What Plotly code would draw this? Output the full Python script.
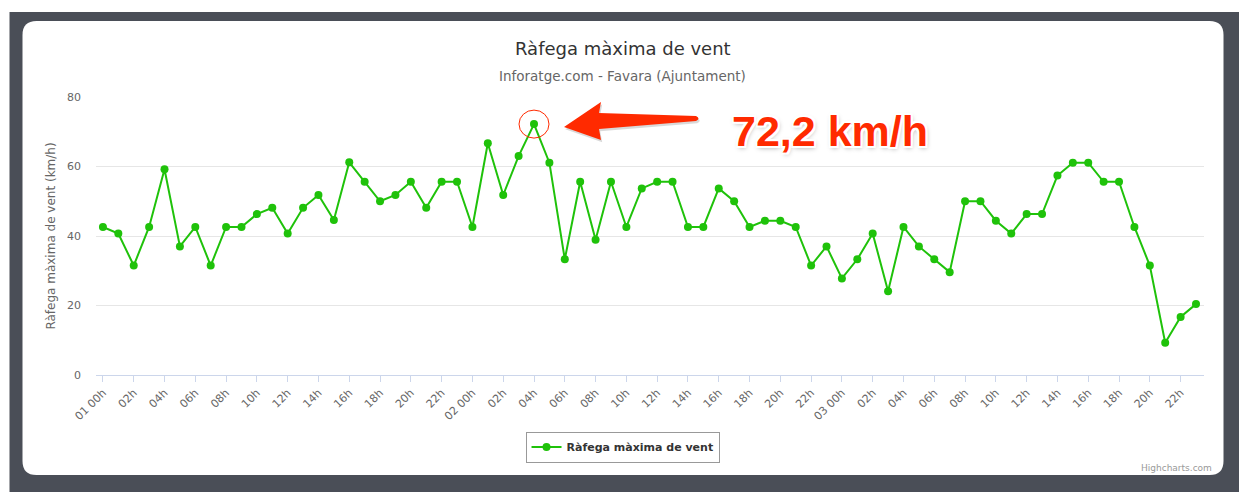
import plotly.graph_objects as go

# ---------------- data ----------------
days = ["01", "02", "03"]
hours_per_day = 24
gust_kmh = [
    42.6, 40.7, 31.5, 42.6, 59.2, 37.0, 42.6, 31.5, 42.6, 42.6, 46.3, 48.1,
    40.7, 48.1, 51.8, 44.6, 61.2, 55.6, 50.0, 51.8, 55.6, 48.1, 55.6, 55.6,
    42.6, 66.7, 51.8, 63.0, 72.2, 61.1, 33.3, 55.6, 38.9, 55.6, 42.6, 53.7,
    55.6, 55.6, 42.6, 42.6, 53.7, 50.0, 42.6, 44.4, 44.4, 42.6, 31.5, 37.0,
    27.8, 33.3, 40.7, 24.1, 42.6, 37.0, 33.3, 29.6, 50.0, 50.0, 44.4, 40.7,
    46.3, 46.3, 57.4, 61.1, 61.1, 55.6, 55.6, 42.6, 31.5, 9.3, 16.7, 20.4,
]
series_name = "Ràfega màxima de vent"
title_text = "Ràfega màxima de vent"
subtitle_text = "Inforatge.com - Favara (Ajuntament)"
y_title = "Ràfega màxima de vent (km/h)"
credits_text = "Highcharts.com"
y_ticks = [0, 20, 40, 60, 80]

# hour labels (Highcharts style: day shown at 00h)
hour_labels = []
for d in days:
    for h in range(hours_per_day):
        hour_labels.append(f"{d} {h:02d}h" if h == 0 else f"{h:02d}h")
x_idx = list(range(len(gust_kmh)))
tick_idx = x_idx[::2]
tick_txt = [hour_labels[i] for i in tick_idx]

# ---------------- layout constants ----------------
W, H = 1239, 492
PLOT_L, PLOT_R, PLOT_T, PLOT_B = 95.5, 1204.5, 97, 375   # page pixels
ML, MR, MT, MB = PLOT_L, W - PLOT_R, PLOT_T, H - PLOT_B
PW, PH = W - ML - MR, H - MT - MB
FONT = "DejaVu Sans"
GREEN = "#1fc20a"
RED = "#ff2a00"


def P(px, py):
    """page pixel -> pixel relative to plot bottom-left (y up)"""
    return px - PLOT_L, PLOT_B - py


def paper_x(px):
    return (px - PLOT_L) / PW


def paper_y(py):
    return (PLOT_B - py) / PH


def rounded_rect(x0, y0, x1, y1, r):
    a, t = P(x0, y0)
    b, bt = P(x1, y1)
    return (f"M {a+r},{t} L {b-r},{t} Q {b},{t} {b},{t-r} "
            f"L {b},{bt+r} Q {b},{bt} {b-r},{bt} L {a+r},{bt} "
            f"Q {a},{bt} {a},{bt+r} L {a},{t-r} Q {a},{t} {a+r},{t} Z")


def rect(x0, y0, x1, y1):
    a, t = P(x0, y0)
    b, bt = P(x1, y1)
    return f"M {a},{t} L {b},{t} L {b},{bt} L {a},{bt} Z"


fig = go.Figure()
fig.add_trace(go.Scatter(
    x=x_idx, y=gust_kmh, mode="lines+markers", name=series_name,
    line=dict(color=GREEN, width=2),
    marker=dict(color=GREEN, size=8),
    showlegend=True,
))

frame_common = dict(xref="paper", yref="paper", xsizemode="pixel", ysizemode="pixel",
                    xanchor=0, yanchor=0, layer="below")
shapes = [
    dict(type="path", path=rect(9, 12, 1260, 510), fillcolor="#4a4e57",
         line=dict(width=0), **frame_common),
    dict(type="path", path=rounded_rect(22, 21, 1223, 475, 14), fillcolor="#ffffff",
         line=dict(width=0), **frame_common),
]

# peak highlight
peak_i = max(range(len(gust_kmh)), key=lambda i: gust_kmh[i])
peak_v = gust_kmh[peak_i]
peak_common = dict(xref="x", yref="y", xsizemode="pixel", ysizemode="pixel",
                   xanchor=peak_i, yanchor=peak_v)
shapes.append(dict(type="circle", x0=-15, x1=15, y0=-14, y1=14,
                   line=dict(color=RED, width=1), **peak_common))
arrow_path = ("M 30,-3 L 67,22 L 65,11 L 162,8 Q 167,5.5 162,3 "
              "L 65,-5 L 67,-16 Z")
shapes.append(dict(type="path", path=arrow_path, fillcolor="rgba(0,0,0,0.15)",
                   line=dict(width=0), xref="x", yref="y", xsizemode="pixel",
                   ysizemode="pixel", xanchor=peak_i + 0.08, yanchor=peak_v - 0.6))
shapes.append(dict(type="path", path=arrow_path, fillcolor=RED,
                   line=dict(width=0), **peak_common))

annotations = [
    dict(text=title_text, x=paper_x(622.5), y=paper_y(48.5), xref="paper", yref="paper",
         showarrow=False, xanchor="center", yanchor="middle",
         font=dict(family=FONT, size=18, color="#333333")),
    dict(text=subtitle_text, x=paper_x(622.5), y=paper_y(75.5), xref="paper",
         yref="paper", showarrow=False, xanchor="center", yanchor="middle",
         font=dict(family=FONT, size=13.5, color="#666666")),
    dict(text=credits_text, x=paper_x(1215), y=paper_y(468), xref="paper",
         yref="paper", showarrow=False, xanchor="right", yanchor="middle",
         font=dict(family=FONT, size=9, color="#999999")),
    dict(text=f"{peak_v:.1f}".replace(".", ",") + " km/h", x=peak_i, y=peak_v,
         xref="x", yref="y", xshift=296, yshift=-7, showarrow=False,
         xanchor="center", yanchor="middle",
         font=dict(family="Liberation Sans", size=43, color=RED, weight="bold",
                   shadow="-2px -2px 0 #fff, 2px -2px 0 #fff, -2px 2px 0 #fff, "
                          "2px 2px 0 #fff, 0 0 3px #fff, 1px 2px 5px rgba(0,0,0,0.35)")),
]

fig.update_layout(
    width=W, height=H,
    margin=dict(l=ML, r=MR, t=MT, b=MB, pad=0),
    paper_bgcolor="#ffffff", plot_bgcolor="rgba(0,0,0,0)",
    font=dict(family=FONT, color="#666666"),
    shapes=shapes,
    annotations=annotations,
    showlegend=True,
    legend=dict(orientation="h", x=paper_x(622.5), xanchor="center",
                y=paper_y(431.5), yanchor="top",
                bordercolor="#999999", borderwidth=1, bgcolor="#ffffff",
                font=dict(family=FONT, size=11, color="#333333", weight="bold")),
    xaxis=dict(range=[-0.45, len(gust_kmh) - 1 + 0.52], tickmode="array",
               tickvals=tick_idx, ticktext=tick_txt, tickangle=-45,
               showgrid=False, zeroline=False, showline=True, linecolor="#ccd6eb",
               linewidth=1, ticks="outside", ticklen=6, tickcolor="#ccd6eb",
               tickfont=dict(family=FONT, size=11, color="#666666")),
    yaxis=dict(range=[0, 80], tickvals=y_ticks, showgrid=True, gridcolor="#e6e6e6",
               zeroline=False, showline=False, ticks="", ticklabelstandoff=14,
               tickfont=dict(family=FONT, size=11, color="#666666"),
               title=dict(text=y_title, standoff=8,
                          font=dict(family=FONT, size=12, color="#666666"))),
)

fig.write_html(
    "out.html",
    config={"displayModeBar": False},
    post_script="document.body.style.margin='0';document.body.style.overflow='hidden';",
)
